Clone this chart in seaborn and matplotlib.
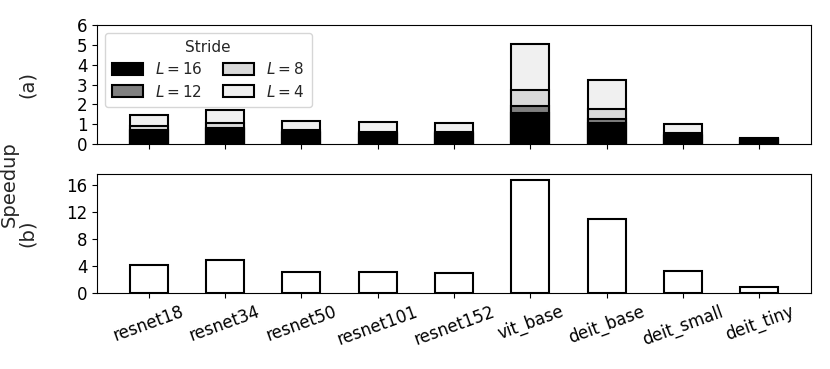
"""
Speedup per model: (a) per stride L, (b) overall
"""
import numpy as np
import pandas as pd

import matplotlib
matplotlib.use('Agg')
import matplotlib.pyplot as plt
from matplotlib.patches import Patch
import seaborn as sns

sns.set_style('ticks')
plt.rcParams['font.family'] = ['DejaVu Sans']
plt.rcParams['axes.edgecolor'] = 'black'
plt.rcParams['xtick.color'] = 'black'
plt.rcParams['ytick.color'] = 'black'

models = ['resnet18', 'resnet34', 'resnet50', 'resnet101', 'resnet152',
          'vit_base', 'deit_base', 'deit_small', 'deit_tiny']

# speedup per stride (panel a), bars overlap from zero
speedup_L16 = [0.68, 0.74, 0.58, 0.52, 0.50, 1.59, 1.05, 0.42, 0.20]
speedup_L12 = [0.72, 0.80, 0.62, 0.56, 0.58, 1.93, 1.26, 0.48, 0.23]
speedup_L8 = [0.89, 1.04, 0.70, 0.62, 0.62, 2.75, 1.78, 0.58, 0.26]
speedup_L4 = [1.47, 1.74, 1.17, 1.11, 1.08, 5.07, 3.25, 0.99, 0.32]

# overall speedup (panel b)
speedup_total = [4.1, 4.95, 3.1, 3.1, 3.03, 16.8, 10.9, 3.25, 0.9]

strides = {
    '$L=4$': (speedup_L4, '#f0f0f0'),
    '$L=8$': (speedup_L8, '#d9d9d9'),
    '$L=12$': (speedup_L12, '#808080'),
    '$L=16$': (speedup_L16, 'black'),
}

fig, (ax_a, ax_b) = plt.subplots(2, 1, figsize=(8.3, 3.69), dpi=100, sharex=True)
fig.subplots_adjust(left=0.117, right=0.977, bottom=0.206, top=0.932, hspace=0.252)

bar_kw = dict(width=0.5, edgecolor='black', linewidth=1.5)

for label, (vals, color) in strides.items():
    df = pd.DataFrame({'model': models, 'speedup': vals})
    sns.barplot(data=df, x='model', y='speedup', color=color, ax=ax_a, **bar_kw)

ax_a.set_ylim(0, 6)
ax_a.set_yticks(range(7))
ax_a.set_ylabel('(a)', fontsize=14)
ax_a.set_xlabel('')
ax_a.tick_params(labelsize=12, labelbottom=False)

handles = [Patch(facecolor=strides[k][1], edgecolor='black', linewidth=1.5, label=k)
           for k in ['$L=16$', '$L=12$', '$L=8$', '$L=4$']]
ax_a.legend(handles=handles, title='Stride', ncol=2, loc='upper left',
            fontsize=11, title_fontsize=11, columnspacing=1.35,
            labelspacing=0.4, borderpad=0.5, handleheight=0.8)

df_total = pd.DataFrame({'model': models, 'speedup': speedup_total})
sns.barplot(data=df_total, x='model', y='speedup', color='white', ax=ax_b, **bar_kw)
ax_b.set_yticks([0, 4, 8, 12, 16])
ax_b.set_ylim(0, 17.64)
ax_b.set_ylabel('(b)', fontsize=14)
ax_b.set_xlabel('')
ax_b.tick_params(labelsize=12)
ax_b.set_xlim(-0.675, len(models) - 1 + 0.675)
plt.setp(ax_b.get_xticklabels(), rotation=20, ha='center')

ax_a.yaxis.set_label_coords(-0.084, 0.5)
ax_b.yaxis.set_label_coords(-0.084, 0.5)
fig.text(0.011, 0.5, 'Speedup', rotation=90, va='center', ha='center', fontsize=14)

fig.savefig('out.png', dpi=100)
